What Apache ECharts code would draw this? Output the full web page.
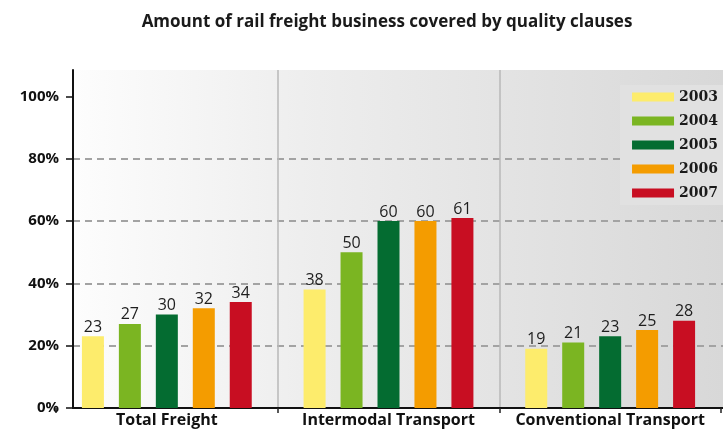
<!DOCTYPE html>
<html>
<head>
<meta charset="utf-8">
<script src="https://cdn.jsdelivr.net/npm/echarts@6/dist/echarts.min.js"></script>
<style>
  html, body { margin: 0; padding: 0; background: #ffffff; }
  #chart { width: 723px; height: 432px; }
</style>
</head>
<body>
<div id="chart"></div>
<script>
// Share of rail freight business covered by quality clauses, per segment and year
const categories = ['Total Freight', 'Intermodal Transport', 'Conventional Transport'];
const years = ['2003', '2004', '2005', '2006', '2007'];
const values2003 = [23, 38, 19];
const values2004 = [27, 50, 21];
const values2005 = [30, 60, 23];
const values2006 = [32, 60, 25];
const values2007 = [34, 61, 28];
const yTicks = [0, 20, 40, 60, 80, 100];

const yearValues = [values2003, values2004, values2005, values2006, values2007];
const yearColors = ['#fdec6c', '#7bb522', '#046c31', '#f49c00', '#c80e22'];

const Y_MAX = 108.5;
const sansFont = '"Open Sans", "Noto Sans", sans-serif';

const chart = echarts.init(document.getElementById('chart'));

const series = years.map((year, i) => ({
  name: year,
  type: 'bar',
  xAxisIndex: 1,
  yAxisIndex: 1,
  data: yearValues[i],
  barWidth: 22,
  barGap: '68%',
  itemStyle: { color: yearColors[i] },
  label: {
    show: true,
    position: 'top',
    distance: 1,
    fontFamily: sansFont,
    fontSize: 16,
    color: '#1e1e1e'
  }
}));

chart.setOption({
  animation: false,
  backgroundColor: '#ffffff',
  title: {
    text: 'Amount of rail freight business covered by quality clauses',
    left: 382,
    top: 9,
    textAlign: 'center',
    textStyle: {
      fontFamily: sansFont,
      fontSize: 17,
      fontWeight: 'bold',
      color: '#1a1a1a'
    }
  },
  legend: {
    data: years,
    orient: 'vertical',
    right: 0,
    top: 85,
    icon: 'rect',
    itemWidth: 42,
    itemHeight: 9,
    itemGap: 10,
    backgroundColor: '#e1e1e1',
    padding: [5, 5, 5, 12],
    textStyle: {
      fontFamily: '"DejaVu Serif", serif',
      fontWeight: 'bold',
      fontSize: 14,
      color: '#1a1a1a'
    }
  },
  grid: [
    {
      // value grid: shaded panel, y axis and dashed guides
      left: 73, right: 0, top: 70, bottom: 24,
      show: true,
      borderWidth: 0,
      backgroundColor: {
        type: 'linear', x: 0, y: 0, x2: 1, y2: 0,
        colorStops: [
          { offset: 0, color: '#fdfdfd' },
          { offset: 0.35, color: '#eeeeee' },
          { offset: 1, color: '#d8d8d8' }
        ]
      }
    },
    {
      // category grid: bars, segment dividers and segment names
      left: 56, right: 2, top: 70, bottom: 24
    }
  ],
  xAxis: [
    {
      gridIndex: 0,
      type: 'value',
      min: 0,
      max: 1,
      axisLine: { show: true, lineStyle: { color: '#111111', width: 2 } },
      axisTick: { show: false },
      axisLabel: { show: false },
      splitLine: { show: false }
    },
    {
      gridIndex: 1,
      type: 'category',
      data: categories,
      axisLine: { show: false },
      axisTick: {
        show: true,
        length: 5,
        interval: 0,
        lineStyle: { color: '#222222', width: 1.5 }
      },
      axisLabel: {
        interval: 0,
        hideOverlap: false,
        margin: 4,
        fontFamily: sansFont,
        fontSize: 16,
        fontWeight: 'bold',
        color: '#111111'
      },
      splitLine: {
        show: true,
        interval: 0,
        showMinLine: false,
        showMaxLine: false,
        lineStyle: { color: '#b9b9b9', width: 1.5 }
      }
    }
  ],
  yAxis: [
    {
      gridIndex: 0,
      type: 'value',
      min: 0,
      max: Y_MAX,
      interval: 20,
      axisLine: { show: true, lineStyle: { color: '#111111', width: 2 } },
      axisTick: {
        show: true,
        length: 7,
        customValues: yTicks,
        lineStyle: { color: '#111111', width: 1.5 }
      },
      axisLabel: {
        customValues: yTicks,
        formatter: v => (v % 20 === 0 ? v + '%' : ''),
        margin: 14,
        fontFamily: sansFont,
        fontSize: 15,
        fontWeight: 'bold',
        color: '#111111'
      },
      splitLine: {
        show: true,
        showMinLine: false,
        showMaxLine: false,
        lineStyle: { color: '#a3a3a3', width: 2, type: [7, 5] }
      }
    },
    {
      gridIndex: 1,
      type: 'value',
      min: 0,
      max: Y_MAX,
      show: false,
      splitLine: { show: false }
    }
  ],
  series: series
});
</script>
</body>
</html>
